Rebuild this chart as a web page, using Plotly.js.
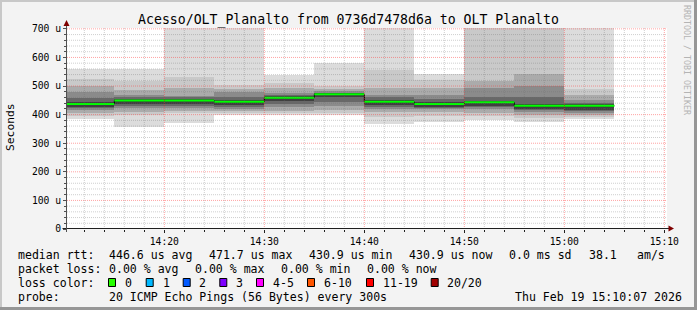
<!DOCTYPE html>
<html><head><meta charset="utf-8">
<script src="https://cdn.plot.ly/plotly-3.0.1.min.js"></script>
<style>
body{margin:0;background:#f3f3f3}
#wrap{position:relative;width:697px;height:310px;overflow:hidden}
#chart{width:697px;height:310px}
.bd{position:absolute;pointer-events:none}
</style></head><body>
<div id="wrap">
<div id="chart"></div>
<div class="bd" style="left:0;top:0;width:697px;height:2px;background:#c8c8c8"></div>
<div class="bd" style="left:0;top:0;width:2px;height:310px;background:#c8c8c8"></div>
<div class="bd" style="left:0;top:307px;width:697px;height:3px;background:#969696"></div>
<div class="bd" style="left:694px;top:0;width:3px;height:310px;background:#969696"></div>
</div>
<script>
// ---- data (values in microseconds) ----
const day = '2026-02-19';
const stepEnds = ['14:15','14:20','14:25','14:30','14:35','14:40','14:45','14:50','14:55','15:00','15:05'];
const median   = [437, 449, 449.5, 445, 459, 471.7, 445, 437, 443, 431, 430.9];
const band1Hi  = [559, 560, 760, 760, 539, 581, 760, 541, 760, 760, 760];
const band1Lo  = [383, 357, 372, 398, 398, 398, 367, 375, 381, 375, 385];
const band2Hi  = [525, 518, 531, 503, 510, 500, 556, 520, 760, 760, 490];
const band2Lo  = [395, 398, 405, 405, 405, 405, 393, 395, 395, 387, 390];
const band3Hi  = [500, 486, 492, 490, 492, 490, 492, 492, 518, 543, 469];
const band3Lo  = [405, 410, 413, 412, 413, 415, 410, 408, 405, 400, 398];
const band4Hi  = [479, 469, 465, 478, 475, 482, 470, 470, 492, 500, 450];
const band4Lo  = [416, 422, 422, 420, 425, 430, 420, 418, 418, 410, 405];
const band5Hi  = [458, 460, 460, 460, 468, 476, 460, 455, 463, 460, 442];
const band5Lo  = [422, 430, 430, 428, 436, 445, 428, 422, 425, 416, 412];
const band6Hi  = [444, 455, 455, 451, 464, 477, 451, 443, 449, 436, 436];
const band6Lo  = [426, 437, 437, 433, 446, 460, 433, 425, 431, 418, 417];
const yTickVals = [0, 100, 200, 300, 400, 500, 600, 700];
const yTickText = ['0', '100 u', '200 u', '300 u', '400 u', '500 u', '600 u', '700 u'];
const xStart = '14:10:16', xEnd = '15:10:16';
const statRtt  = ['446.6 us avg', '471.7 us max', '430.9 us min', '430.9 us now', '0.0 ms sd', '38.1', 'am/s'];
const statLoss = ['0.00 % avg', '0.00 % max', '0.00 % min', '0.00 % now'];
const lossLabels = ['0', '1', '2', '3', '4-5', '6-10', '11-19', '20/20'];
const lossColors = ['#26ff00', '#00b8ff', '#0059ff', '#7e00ff', '#ff00ff', '#ff5500', '#ff0000', '#a10000'];
const probeText = '20 ICMP Echo Pings (56 Bytes) every 300s';
const stampText = 'Thu Feb 19 15:10:07 2026';
const titleText = 'Acesso/OLT_Planalto from 0736d7478d6a to OLT Planalto';

// ---- helpers ----
function ts(hm, sec) {
  const full = hm.length === 5 ? hm + ':00' : hm;
  const d = new Date(day + 'T' + full + 'Z');
  d.setUTCSeconds(d.getUTCSeconds() + (sec || 0));
  return d.toISOString().slice(0, 19).replace('T', ' ');
}
const L = 67, R = 30, T = 28, B = 81, W = 697, H = 310;
const PW = W - L - R, PH = H - T - B;
const PX = x => (x - L) / PW;
const PY = y => (H - B - y) / PH;
const MONO = 'DejaVu Sans Mono';

const starts = stepEnds.map(e => ts(e, -300));
const ends = stepEnds.map(e => ts(e, 0));
const centers = stepEnds.map(e => ts(e, -150));

const bands = [
  [band1Hi, band1Lo, '#dcdcdc'],
  [band2Hi, band2Lo, '#c9c9c9'],
  [band3Hi, band3Lo, '#ababab'],
  [band4Hi, band4Lo, '#8b8b8b'],
  [band5Hi, band5Lo, '#686868'],
  [band6Hi, band6Lo, '#404040']
];
const traces = bands.map(([hi, lo, c]) => ({
  type: 'bar', x: centers, base: lo, y: hi.map((h, i) => h - lo[i]),
  width: 300000, marker: {color: c, line: {width: 0}}, opacity: 1,
  hoverinfo: 'skip', showlegend: false
}));
traces.push({
  type: 'scatter', mode: 'lines', x: starts.concat([ends[ends.length - 1]]),
  y: median.concat([median[median.length - 1]]),
  line: {shape: 'hv', color: '#000000', width: 1}, hoverinfo: 'skip', showlegend: false
});
const gx = [], gy = [];
median.forEach((m, i) => { gx.push(starts[i], ends[i], null); gy.push(m, m, null); });
traces.push({
  type: 'scatter', mode: 'lines', x: gx, y: gy,
  line: {color: '#00ff00', width: 2}, hoverinfo: 'skip', showlegend: false, connectgaps: false
});

// ---- grid on top (rrdtool style) ----
const shapes = [];
const minorC = 'rgba(110,110,110,0.33)', majorC = 'rgba(255,50,50,0.45)';
for (let m = 12; m <= 70; m += 2) {
  const hh = 14 + Math.floor(m / 60), mm = m % 60;
  const t = ts(String(hh).padStart(2, '0') + ':' + String(mm).padStart(2, '0'));
  shapes.push({type: 'line', layer: 'above', xref: 'x', yref: 'paper', x0: t, x1: t, y0: 0, y1: 1,
    line: {color: m % 10 === 0 ? majorC : minorC, width: 1, dash: '1px,1px'}});
}
for (let v = 20; v <= 700; v += 20) {
  shapes.push({type: 'line', layer: 'above', xref: 'paper', yref: 'y', x0: 0, x1: 1, y0: v, y1: v,
    line: {color: v % 100 === 0 ? majorC : minorC, width: 1, dash: '1px,1px'}});
}
// axis lines and arrows
shapes.push({type: 'line', layer: 'above', xref: 'paper', yref: 'paper',
  x0: PX(62.5), x1: PX(670), y0: PY(228.5), y1: PY(228.5), line: {color: '#202020', width: 1}});
shapes.push({type: 'line', layer: 'above', xref: 'paper', yref: 'paper',
  x0: PX(66.5), x1: PX(66.5), y0: PY(232), y1: PY(24), line: {color: '#505050', width: 1}});
shapes.push({type: 'path', layer: 'above', xref: 'paper', yref: 'paper', fillcolor: '#7f0000', line: {width: 0},
  path: `M ${PX(63.5)},${PY(26)} L ${PX(69.5)},${PY(26)} L ${PX(66.5)},${PY(20)} Z`});
shapes.push({type: 'path', layer: 'above', xref: 'paper', yref: 'paper', fillcolor: '#7f0000', line: {width: 0},
  path: `M ${PX(668.5)},${PY(225.5)} L ${PX(668.5)},${PY(231.5)} L ${PX(674)},${PY(228.5)} Z`});

// ---- legend text ----
const ann = [];
const txt = (x, y, s, extra) => ann.push(Object.assign({
  xref: 'paper', yref: 'paper', x: PX(x), y: PY(y), xanchor: 'left', yanchor: 'middle',
  text: s, showarrow: false, font: {family: MONO, size: 11.55, color: '#000'}
}, extra || {}));
const rttX = [107, 207, 306.7, 406.7, 506.7, 586.7, 635];
txt(16, 254.5, 'median rtt:');
statRtt.forEach((s, i) => txt(rttX[i], 254.5, s));
const lossX = [107.3, 193.3, 279.3, 365];
txt(16, 268.5, 'packet loss:');
statLoss.forEach((s, i) => txt(lossX[i], 268.5, s));
txt(16, 282.5, 'loss color:');
const boxX = [108, 145.7, 182.7, 219.3, 256, 307, 366, 430.7];
const labX = [123.3, 160.7, 197.3, 234.3, 270.7, 321.7, 380.7, 445];
lossLabels.forEach((s, i) => {
  txt(labX[i], 282.5, s);
  shapes.push({type: 'rect', layer: 'above', xref: 'paper', yref: 'paper',
    x0: PX(boxX[i] + 0.5), x1: PX(boxX[i] + 7.5), y0: PY(286.5), y1: PY(278.5),
    fillcolor: lossColors[i], line: {color: '#000', width: 1}});
});
txt(16, 296.5, 'probe:');
txt(107.3, 296.5, probeText);
txt(513.3, 296.5, stampText);
ann.push({xref: 'paper', yref: 'paper', x: PX(10), y: PY(127), xanchor: 'center', yanchor: 'middle',
  text: 'Seconds', textangle: -90, showarrow: false, font: {family: MONO, size: 11.3, color: '#000'}});
ann.push({xref: 'paper', yref: 'paper', x: PX(687), y: PY(60), xanchor: 'center', yanchor: 'middle',
  text: 'RRDTOOL / TOBI OETIKER', textangle: 90, showarrow: false, font: {family: MONO, size: 8.3, color: '#b4b4b4'}});

const layout = {
  width: W, height: H, margin: {l: L, r: R, t: T, b: B},
  paper_bgcolor: '#f3f3f3', plot_bgcolor: '#ffffff',
  barmode: 'overlay', bargap: 0, showlegend: false,
  title: {text: titleText, font: {family: MONO, size: 13.2, color: '#000'},
    x: 0.5, xref: 'container', xanchor: 'center', y: 1 - 19.3 / H, yref: 'container', yanchor: 'middle'},
  xaxis: {type: 'date', range: [ts(xStart), ts(xEnd)], showgrid: false, zeroline: false, showline: false,
    tick0: ts('14:00'), dtick: 600000, tickformat: '%H:%M',
    ticks: 'outside', ticklen: 3, tickcolor: '#202020', tickwidth: 1,
    minor: {dtick: 120000, ticks: 'outside', ticklen: 2, tickcolor: '#202020', showgrid: false},
    tickfont: {family: MONO, size: 9.7, color: '#000'}, fixedrange: true},
  yaxis: {range: [0, 703], tickvals: yTickVals, ticktext: yTickText, showgrid: false, zeroline: false, showline: false,
    ticks: 'outside', ticklen: 3, tickcolor: '#505050', tickwidth: 1,
    minor: {tickvals: Array.from({length: 35}, (_, i) => (i + 1) * 20), ticks: 'outside', ticklen: 2, tickcolor: '#505050', showgrid: false},
    tickfont: {family: MONO, size: 9.7, color: '#000'}, fixedrange: true},
  shapes: shapes, annotations: ann
};
Plotly.newPlot('chart', traces, layout, {staticPlot: true, displayModeBar: false});
</script>
</body></html>
